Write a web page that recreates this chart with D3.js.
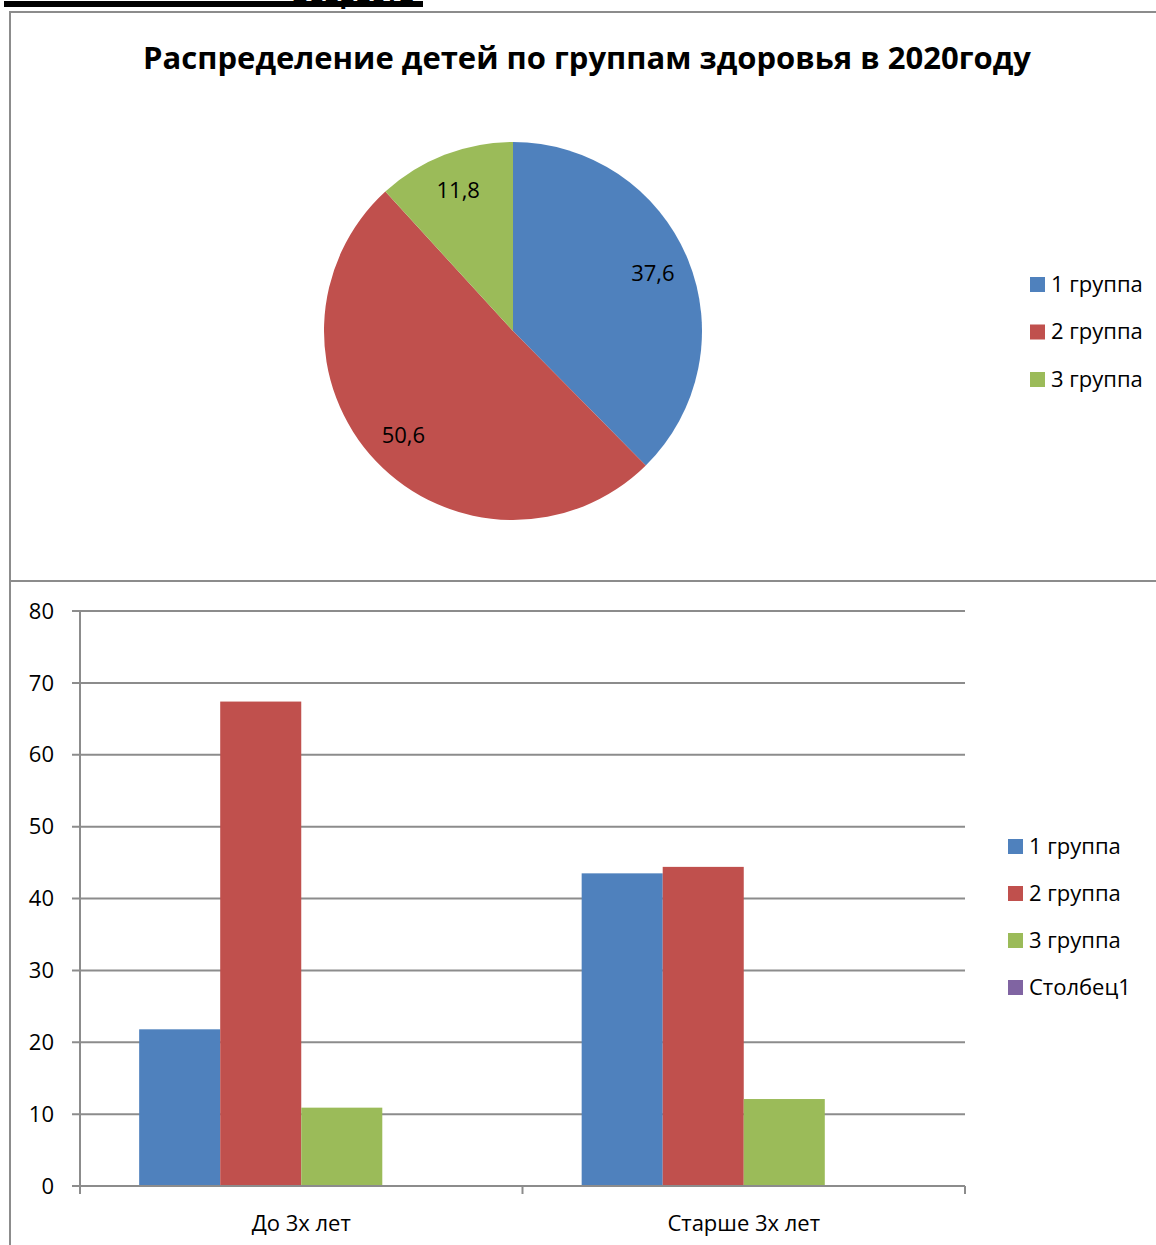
<!DOCTYPE html>
<html>
<head>
<meta charset="utf-8">
<script src="https://cdn.jsdelivr.net/npm/d3@7"></script>
<style>
  body { margin: 0; background: #fff; }
  svg { display: block; font-family: "Open Sans", "Noto Sans", sans-serif; }
</style>
</head>
<body>
<svg id="chart" width="1156" height="1245"></svg>
<script>
// pie data (2020)
const pieGroups = ['1 группа', '2 группа', '3 группа'];
const pieValues = [37.6, 50.6, 11.8];
const pieLabels = ['37,6', '50,6', '11,8'];

// bar data
const ageCategories = ['До 3х лет', 'Старше 3х лет'];
const barSeries = ['1 группа', '2 группа', '3 группа', 'Столбец1'];
const group1Values = [21.8, 43.5];
const group2Values = [67.4, 44.4];
const group3Values = [10.9, 12.1];
const column1Values = [0, 0];
const yTicks = [0, 10, 20, 30, 40, 50, 60, 70, 80];

const colours = ['#4F81BD', '#C0504D', '#9BBB59', '#8064A2'];
const gridColour = '#8c8c8c';
const fontSize = '22px';

const svg = d3.select('#chart');

// cut-off heading line at very top
svg.append('rect').attr('x', 4).attr('y', 1).attr('width', 419).attr('height', 6).attr('fill', '#000');
svg.append('text')
    .attr('x', 353).attr('y', 3)
    .attr('text-anchor', 'middle')
    .style('font-size', '26px').style('font-weight', 'bold')
    .text('Возраста');

// frame
svg.append('path')
    .attr('d', 'M10,1245 V12 H1156')
    .attr('fill', 'none').attr('stroke', gridColour).attr('stroke-width', 2);
svg.append('line')
    .attr('x1', 10).attr('x2', 1156).attr('y1', 581).attr('y2', 581)
    .attr('stroke', gridColour).attr('stroke-width', 2);

// ---- pie ----
svg.append('text')
    .attr('x', 587).attr('y', 69)
    .attr('text-anchor', 'middle')
    .style('font-size', '31px').style('font-weight', 'bold')
    .text('Распределение детей по группам здоровья в 2020году');

const pieRadius = 189;
const pieGroup = svg.append('g').attr('transform', 'translate(513,331)');
const createPie = d3.pie().sort(null).value(d => d);
const createArcPath = d3.arc().innerRadius(0).outerRadius(pieRadius);
const labelArc = d3.arc().innerRadius(pieRadius * 0.8).outerRadius(pieRadius * 0.8);
const slices = createPie(pieValues);

pieGroup.selectAll('path')
    .data(slices)
    .enter().append('path')
    .attr('d', createArcPath)
    .attr('fill', (d, i) => colours[i]);

pieGroup.selectAll('text')
    .data(slices)
    .enter().append('text')
    .attr('transform', d => `translate(${labelArc.centroid(d)})`)
    .attr('text-anchor', 'middle')
    .attr('dy', '0.35em')
    .style('font-size', fontSize)
    .text((d, i) => pieLabels[i]);

const pieLegend = svg.append('g').attr('transform', 'translate(1030,284)');
pieGroups.forEach((name, i) => {
    const row = pieLegend.append('g').attr('transform', `translate(0,${i * 47.5})`);
    row.append('rect').attr('x', 0).attr('y', -7).attr('width', 15).attr('height', 15).attr('fill', colours[i]);
    row.append('text').attr('x', 21).attr('dy', '0.35em').style('font-size', fontSize).text(name);
});

// ---- bars ----
const plot = { left: 80, right: 965, top: 611, bottom: 1186 };
const y = d3.scaleLinear().domain([0, 80]).range([plot.bottom, plot.top]);
const x0 = d3.scaleBand().domain(ageCategories).range([plot.left, plot.right]).paddingInner(0).paddingOuter(0);
const x1 = d3.scaleBand().domain(barSeries).range([0, x0.bandwidth()]).paddingOuter(0.73).paddingInner(0);

const barGroup = svg.append('g');

barGroup.selectAll('line.grid')
    .data(yTicks)
    .enter().append('line')
    .attr('class', 'grid')
    .attr('x1', plot.left - 8).attr('x2', plot.right)
    .attr('y1', d => y(d)).attr('y2', d => y(d))
    .attr('stroke', gridColour).attr('stroke-width', 2);

barGroup.selectAll('text.ytick')
    .data(yTicks)
    .enter().append('text')
    .attr('class', 'ytick')
    .attr('x', 54).attr('y', d => y(d))
    .attr('dy', '0.35em')
    .attr('text-anchor', 'end')
    .style('font-size', fontSize)
    .text(d => d);

barGroup.append('line')
    .attr('x1', plot.left).attr('x2', plot.left)
    .attr('y1', plot.top).attr('y2', plot.bottom)
    .attr('stroke', gridColour).attr('stroke-width', 2);

const seriesValues = [group1Values, group2Values, group3Values, column1Values];
const cats = barGroup.selectAll('g.cat')
    .data(ageCategories)
    .enter().append('g')
    .attr('class', 'cat')
    .attr('transform', d => `translate(${x0(d)},0)`);

cats.selectAll('rect')
    .data((d, ci) => barSeries.map((s, si) => ({ s, si, v: seriesValues[si][ci] })))
    .enter().append('rect')
    .attr('x', d => x1(d.s))
    .attr('width', x1.bandwidth())
    .attr('y', d => y(d.v))
    .attr('height', d => y(0) - y(d.v))
    .attr('fill', d => colours[d.si]);

// x axis
const xTickPos = [plot.left, ...ageCategories.map(c => x0(c) + x0.bandwidth())];
barGroup.append('line')
    .attr('x1', plot.left).attr('x2', plot.right)
    .attr('y1', plot.bottom).attr('y2', plot.bottom)
    .attr('stroke', gridColour).attr('stroke-width', 2);
barGroup.selectAll('line.xtick')
    .data(xTickPos)
    .enter().append('line')
    .attr('class', 'xtick')
    .attr('x1', d => d).attr('x2', d => d)
    .attr('y1', plot.bottom).attr('y2', plot.bottom + 8)
    .attr('stroke', gridColour).attr('stroke-width', 2);

barGroup.selectAll('text.xlabel')
    .data(ageCategories)
    .enter().append('text')
    .attr('class', 'xlabel')
    .attr('x', d => x0(d) + x0.bandwidth() / 2)
    .attr('y', 1223)
    .attr('dy', '0.35em')
    .attr('text-anchor', 'middle')
    .style('font-size', fontSize)
    .text(d => d);

const barLegend = svg.append('g').attr('transform', 'translate(1008,846)');
barSeries.forEach((name, i) => {
    const row = barLegend.append('g').attr('transform', `translate(0,${i * 47})`);
    row.append('rect').attr('x', 0).attr('y', -7).attr('width', 15).attr('height', 15).attr('fill', colours[i]);
    row.append('text').attr('x', 21).attr('dy', '0.35em').style('font-size', fontSize).text(name);
});
</script>
</body>
</html>
